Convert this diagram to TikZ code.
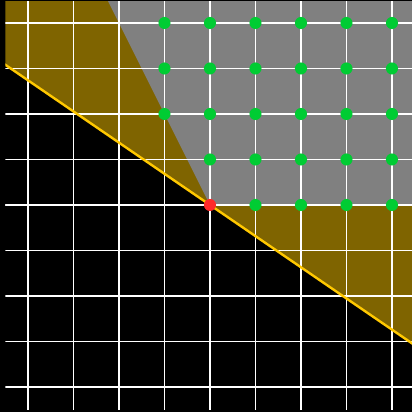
\documentclass[tikz,border=0pt]{standalone}
\definecolor{goldfill}{HTML}{7F6400}
\definecolor{conegray}{HTML}{808080}
\definecolor{bound}{HTML}{FFC800}
\definecolor{dotgreen}{HTML}{00CC33}
\definecolor{dotred}{HTML}{FF2A2A}
\tikzset{
  gridline/.style={white, line width=0.9pt},
  axisline/.style={white, line width=1.8pt},
  boundline/.style={bound, line width=1.5pt},
  gdot/.style={circle, fill=dotgreen, inner sep=0pt, minimum size=0.265cm},
  rdot/.style={circle, fill=dotred, inner sep=0pt, minimum size=0.265cm}
}
\begin{document}
\begin{tikzpicture}
\useasboundingbox[fill=black] (-4.615,-4.549) rectangle (4.440,4.505);
\begin{scope}
\clip (-4.495,-4.505) rectangle (4.44,4.473);
\coordinate (bl) at (-4.6,3.151);
\coordinate (br) at (4.6,-3.151);
\fill[goldfill] (bl) -- (br) -- (4.6,4.6) -- (-4.6,4.6) -- cycle;
\fill[conegray] (0,0) -- (4.6,0) -- (4.6,4.6) -- (-2.3,4.6) -- cycle;
\draw[gridline] (-4.6,-4.6) grid (4.6,4.6);
\draw[axisline] (-4.6,0) -- (4.6,0);
\draw[boundline] (bl) -- (br);
\end{scope}
\foreach \y in {2,3,4} {\foreach \x in {-1,...,4} {\node[gdot] (g\x\y) at (\x,\y) {};}}
\foreach \x in {0,...,4} {\node[gdot] (h\x) at (\x,1) {};}
\foreach \x in {1,...,4} {\node[gdot] (k\x) at (\x,0) {};}
\node[rdot] (origin) at (0,0) {};
\end{tikzpicture}
\end{document}
